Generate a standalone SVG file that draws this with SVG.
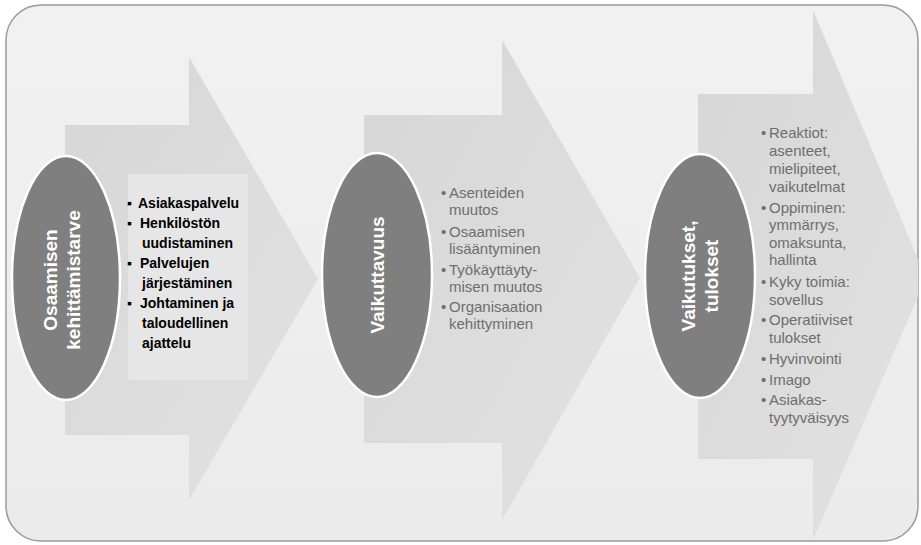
<svg xmlns="http://www.w3.org/2000/svg" width="921" height="545" viewBox="0 0 921 545">
<style>
.frame{fill:url(#bg);stroke:#9a9a9a;stroke-width:1.5}
.arrow{fill:url(#ag)}
.box{fill:#e6e6e6}
.oval{fill:#7f7f7f;stroke:#ffffff;stroke-width:2.5}
.otxt{font-family:"Liberation Sans",Arial,sans-serif;font-size:19px;font-weight:bold;fill:#ffffff;text-anchor:middle}
.l1{font-family:"Liberation Sans",Arial,sans-serif;font-size:14px;font-weight:bold;fill:#000000}
.l2{font-family:"Liberation Sans",Arial,sans-serif;font-size:15px;fill:#6e6e6e}
</style>
<defs>
<linearGradient id="bg" x1="0" y1="0" x2="0" y2="1">
<stop offset="0" stop-color="#f1f1f1"/>
<stop offset="1" stop-color="#ebebeb"/>
</linearGradient>
<linearGradient id="ag" x1="0" y1="0" x2="1" y2="1">
<stop offset="0" stop-color="#d6d6d6"/>
<stop offset="1" stop-color="#e2e2e2"/>
</linearGradient>
<clipPath id="fc"><rect x="6" y="5" width="912" height="536" rx="35"/></clipPath>
</defs>
<rect class="frame" x="6" y="5" width="912" height="536" rx="35"/>
<g id="connectors"/>
<g clip-path="url(#fc)">
<g id="stage1">
<path class="arrow" d="M65,125 H189 V57 L318,279 L189,500 V435 H65 Z"/>
<rect class="box" x="128" y="174" width="120" height="206"/>
<ellipse class="oval" cx="66" cy="278" rx="54" ry="122"/>
<text class="otxt" transform="rotate(-90 57 280)" x="57" y="280">Osaamisen</text>
<text class="otxt" transform="rotate(-90 80 280)" x="80" y="280">kehittämistarve</text>
<g class="l1">
<text x="127" y="208">▪</text><text x="138" y="208">Asiakaspalvelu</text>
<text x="127" y="228">▪</text><text x="140" y="228">Henkilöstön</text>
<text x="142" y="248">uudistaminen</text>
<text x="127" y="268">▪</text><text x="140" y="268">Palvelujen</text>
<text x="142" y="288">järjestäminen</text>
<text x="127" y="308">▪</text><text x="140" y="308">Johtaminen ja</text>
<text x="142" y="328">taloudellinen</text>
<text x="142" y="348">ajattelu</text>
</g>
</g>
<g id="stage2">
<path class="arrow" d="M364,115 H502 V40 L640,278 L502,520 V443 H364 Z"/>
<ellipse class="oval" cx="377" cy="275" rx="55" ry="122"/>
<text class="otxt" transform="rotate(-90 384 275)" x="384" y="275">Vaikuttavuus</text>
<g class="l2">
<text x="441" y="198">•</text><text x="449" y="198">Asenteiden</text>
<text x="449" y="215">muutos</text>
<text x="441" y="237">•</text><text x="449" y="237">Osaamisen</text>
<text x="449" y="254">lisääntyminen</text>
<text x="441" y="275">•</text><text x="449" y="275">Työkäyttäyty-</text>
<text x="449" y="292">misen muutos</text>
<text x="441" y="312">•</text><text x="449" y="312">Organisaation</text>
<text x="449" y="329">kehittyminen</text>
</g>
</g>
<g id="stage3">
<path class="arrow" d="M698,94 H813 V10 L926,278 L813,540 V459 H698 Z"/>
<ellipse class="oval" cx="700" cy="276" rx="55" ry="122"/>
<text class="otxt" transform="rotate(-90 695 276)" x="695" y="276">Vaikutukset,</text>
<text class="otxt" transform="rotate(-90 718 276)" x="718" y="276">tulokset</text>
<g class="l2">
<text x="761" y="138">•</text><text x="769" y="138">Reaktiot:</text>
<text x="769" y="156">asenteet,</text>
<text x="769" y="174">mielipiteet,</text>
<text x="769" y="192">vaikutelmat</text>
<text x="761" y="213">•</text><text x="769" y="213">Oppiminen:</text>
<text x="769" y="230">ymmärrys,</text>
<text x="769" y="248">omaksunta,</text>
<text x="769" y="265">hallinta</text>
<text x="761" y="287">•</text><text x="769" y="287">Kyky toimia:</text>
<text x="769" y="305">sovellus</text>
<text x="761" y="325">•</text><text x="769" y="325">Operatiiviset</text>
<text x="769" y="343">tulokset</text>
<text x="761" y="364">•</text><text x="769" y="364">Hyvinvointi</text>
<text x="761" y="385">•</text><text x="769" y="385">Imago</text>
<text x="761" y="405">•</text><text x="769" y="405">Asiakas-</text>
<text x="769" y="423">tyytyväisyys</text>
</g>
</g>
</g>
</svg>
